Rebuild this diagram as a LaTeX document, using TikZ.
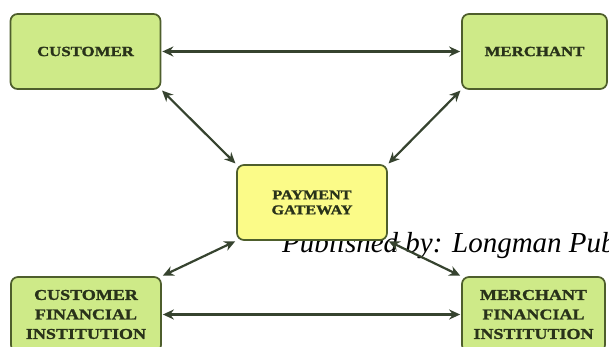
\documentclass[tikz,border=0pt]{standalone}
\usepackage{fontspec}
\setmainfont{Liberation Serif}
\newfontfamily\boxfont[FakeStretch=1.2,FakeBold=1.5]{Liberation Serif}
\usetikzlibrary{arrows.meta}
\definecolor{boxgreen}{HTML}{CEEA88}
\definecolor{boxyellow}{HTML}{FBFB88}
\definecolor{boxedge}{HTML}{4E5E2C}
\definecolor{arrowcol}{HTML}{36432F}
\definecolor{textcol}{HTML}{29321A}
\tikzset{
  entity/.style={draw=boxedge, line width=1.7pt, rounded corners=7pt, fill=boxgreen,
    minimum width=150pt, minimum height=75pt, inner sep=0pt, align=center,
    font=\boxfont\bfseries\fontsize{14}{15}\selectfont, text=textcol},
  gate/.style={entity, fill=boxyellow},
  link/.style={draw=arrowcol, line width=2.2pt, {Stealth[length=11pt,width=10pt]}-{Stealth[length=11pt,width=10pt]}, shorten <=1pt, shorten >=1pt}
}
\begin{document}
\begin{tikzpicture}[x=1pt,y=-1pt]
\path[use as bounding box, fill=white] (0,0) rectangle (609,347);
\begin{scope}
\clip (0,0) rectangle (609,347);
\node[anchor=base west, font=\itshape\fontsize{29}{30}\selectfont, inner sep=0pt] (pub) at (282,252) {Published by: Longman Pub};
\node[entity] (cust) at (85.5,51.5) {CUSTOMER};
\node[entity, minimum width=145pt] (merch) at (534.5,51.5) {MERCHANT};
\node[gate, font=\boxfont\bfseries\fontsize{13.5}{15}\selectfont] (gw) at (312,202.5) {PAYMENT\\GATEWAY};
\node[entity, font=\boxfont\bfseries\fontsize{15}{19.5}\selectfont] (cfi) at (86,314.5) {CUSTOMER\\FINANCIAL\\INSTITUTION};
\node[entity, minimum width=143pt, font=\boxfont\bfseries\fontsize{15}{19.5}\selectfont] (mfi) at (533.5,314.5) {MERCHANT\\FINANCIAL\\INSTITUTION};
\draw[link] (cust.east) -- (merch.west);
\draw[link] (cfi.east) -- (mfi.west);
\draw[link] (cust.south east) -- (gw.north west);
\draw[link] (merch.south west) -- (gw.north east);
\draw[link] (gw.south west) -- (cfi.north east);
\draw[link] (gw.south east) -- (mfi.north west);
\end{scope}
\end{tikzpicture}
\end{document}
